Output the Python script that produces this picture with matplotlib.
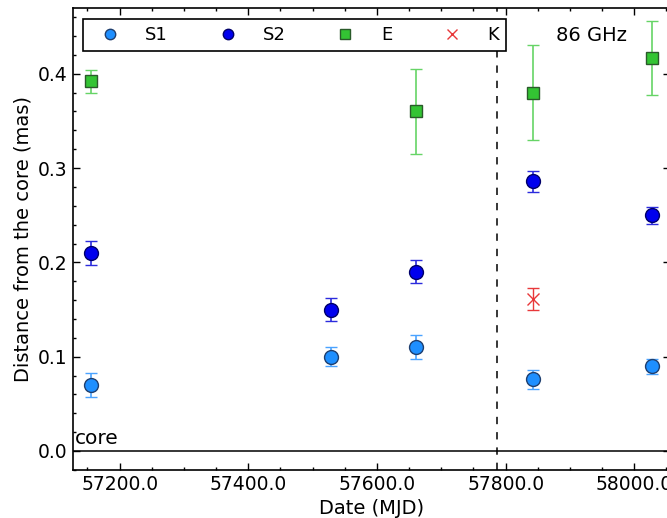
import matplotlib
matplotlib.use("Agg")
import matplotlib.pyplot as plt
from matplotlib.ticker import MultipleLocator, FormatStrFormatter

# Component positions (MJD, distance from core in mas, 1-sigma errors)
s1_mjd = [57156, 57529, 57661, 57843, 58027]
s1_dist = [0.070, 0.100, 0.110, 0.076, 0.090]
s1_err = [0.013, 0.010, 0.013, 0.010, 0.008]

s2_mjd = [57156, 57529, 57661, 57843, 58027]
s2_dist = [0.210, 0.150, 0.190, 0.286, 0.250]
s2_err = [0.013, 0.012, 0.012, 0.011, 0.009]

e_mjd = [57156, 57661, 57843, 58027]
e_dist = [0.392, 0.360, 0.380, 0.417]
e_err = [0.012, 0.045, 0.050, 0.039]

k_mjd = [57843]
k_dist = [0.161]
k_err = [0.012]

epoch_split = 57786

plt.rcParams["font.family"] = "DejaVu Sans"
plt.rcParams["font.size"] = 13

fig = plt.figure(figsize=(6.67, 5.18), dpi=100)
ax = fig.add_axes([0.109, 0.093, 0.895, 0.892])

handles = []

def plot_series(x, y, err, face, edge, marker, ms, label, ecol):
    cont = ax.errorbar(x, y, yerr=err, fmt=marker, ms=ms, mfc=face, mec=edge,
                       mew=1.0, ecolor=ecol, elinewidth=1.2, capsize=4,
                       capthick=1.0, label=label, zorder=3)
    handles.append(cont.lines[0])

plot_series(s1_mjd, s1_dist, s1_err, "#1e8fff", "#1f3f6f", "o", 10, "S1", "#4aa3ff")
plot_series(s2_mjd, s2_dist, s2_err, "#0000ee", "#00006a", "o", 10, "S2", "#2b2bdd")
plot_series(e_mjd, e_dist, e_err, "#33c433", "#2a5a2a", "s", 9, "E", "#66d466")
k = ax.errorbar(k_mjd, k_dist, yerr=k_err, fmt="x", ms=9, mec="#e8383a",
                mew=1.0, ecolor="#e8383a", elinewidth=1.0, capsize=4,
                capthick=1.0, label="K", zorder=3)
handles.append(k.lines[0])

ax.axhline(0.0, color="black", lw=1.1, zorder=2)
ax.axvline(epoch_split, color="black", lw=1.1, ls=(0, (4.8, 5.2)), zorder=2)

ax.text(57130, 0.003, "core", fontsize=14.5, ha="left", va="bottom")
ax.text(57934, 0.441, "86 GHz", fontsize=14, ha="center", va="center")

ax.set_xlim(57127, 58055)
ax.set_ylim(-0.02, 0.47)
ax.xaxis.set_major_locator(MultipleLocator(200))
ax.xaxis.set_minor_locator(MultipleLocator(50))
ax.yaxis.set_major_locator(MultipleLocator(0.1))
ax.yaxis.set_minor_locator(MultipleLocator(0.02))
ax.xaxis.set_major_formatter(FormatStrFormatter("%.1f"))
ax.yaxis.set_major_formatter(FormatStrFormatter("%.1f"))
ax.tick_params(which="both", direction="in", top=True, right=True, labelsize=13.5)
ax.tick_params(which="major", length=5, width=1)
ax.tick_params(which="minor", length=2.5, width=1)
for sp in ax.spines.values():
    sp.set_linewidth(1.2)

ax.set_xlabel("Date (MJD)", fontsize=14)
ax.set_ylabel("Distance from the core (mas)", fontsize=14)

leg = ax.legend(handles, ["S1", "S2", "E", "K"], loc="upper left", ncol=4,
                numpoints=1, fontsize=13, markerscale=0.75,
                fancybox=False, edgecolor="black", framealpha=1,
                bbox_to_anchor=(0.0168, 0.976), borderaxespad=0.0,
                borderpad=0.4, columnspacing=2.2, handletextpad=0.86,
                handlelength=2.2)
leg.get_frame().set_linewidth(1.2)

fig.savefig("out.png", dpi=100)
